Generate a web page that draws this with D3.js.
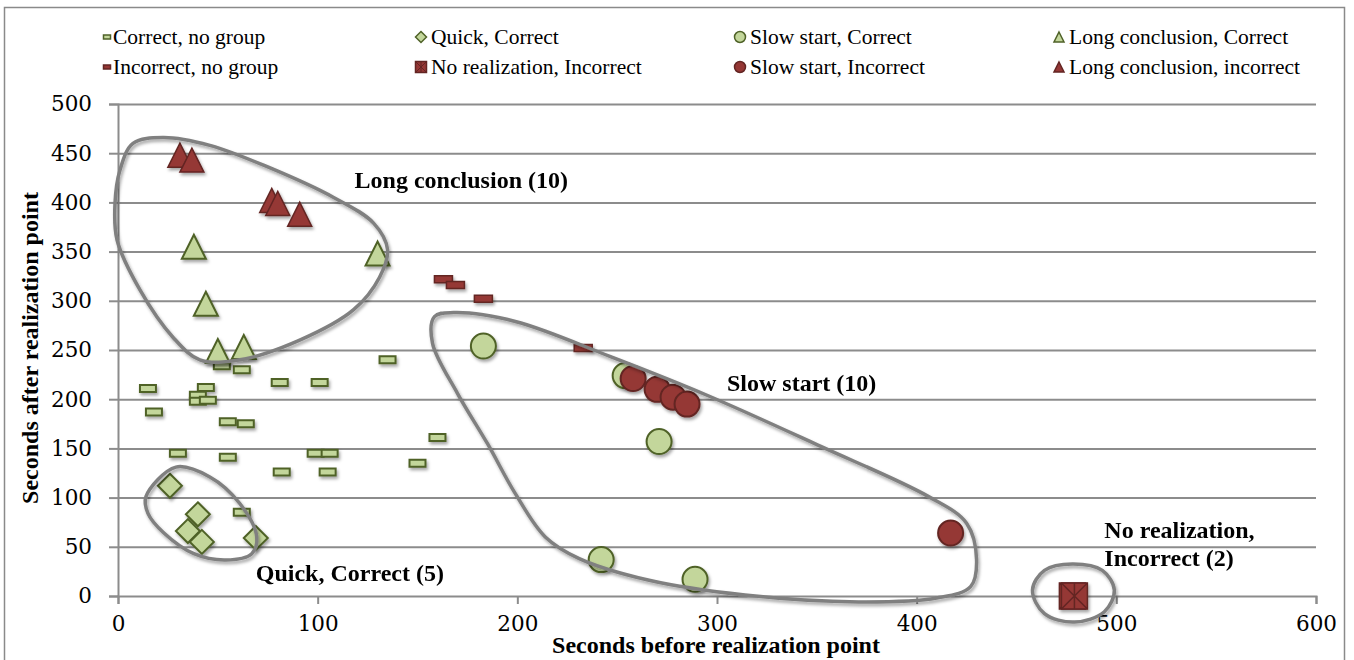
<!DOCTYPE html>
<html>
<head>
<meta charset="utf-8">
<script src="https://cdn.jsdelivr.net/npm/d3@7"></script>
<style>
  html, body { margin: 0; padding: 0; background: #fff; }
  svg { display: block; }
</style>
</head>
<body>
<div id="chart"></div>
<script>
// values: [seconds before, seconds after]
const correctNoGroup = [
  [15, 211], [18, 187], [44, 212], [40, 204], [40, 198], [45, 199],
  [52, 234], [62, 230], [81, 217], [101, 217], [135, 240], [55, 177],
  [64, 175], [30, 145], [55, 141], [99, 145], [106, 145], [82, 126],
  [105, 126], [160, 161], [150, 135], [62, 85]
];
const incorrectNoGroup = [[163, 322], [169, 316], [183, 302], [233, 252]];
const quickCorrect = [[26, 112], [40, 83], [35, 66], [42, 55], [69, 59]];
const noRealization = [[478, 0], [479, 0]];
const slowCorrect = [[183, 254], [254, 224], [271, 157], [242, 37], [289, 17]];
const slowIncorrect = [[258, 221], [270, 210], [278, 202], [285, 195], [417, 64]];
const longCorrect = [[38, 355], [44, 297], [50, 249], [63, 253], [130, 348]];
const longIncorrect = [[31, 448], [37, 443], [77, 402], [80, 399], [91, 388]];

const xTicks = [0, 100, 200, 300, 400, 500, 600];
const yTicks = [0, 50, 100, 150, 200, 250, 300, 350, 400, 450, 500];

const legendLabels = [
  "Correct, no group", "Quick, Correct", "Slow start, Correct", "Long conclusion, Correct",
  "Incorrect, no group", "No realization, Incorrect", "Slow start, Incorrect", "Long conclusion, incorrect"
];

// hand-drawn group outlines, in data units
const longOutline = [
  [7.5, 460], [22.5, 466], [46, 458], [75, 436], [108, 405], [128, 379], [135, 352],
  [131, 324], [118, 291], [91, 260], [61, 240], [41, 240], [27.5, 263], [11, 311],
  [-0.5, 362], [-1.5, 399], [1, 433]
];
const quickOutline = [
  [14, 101], [29, 131], [46, 121], [61, 94], [69.5, 60], [67, 43],
  [54, 36.6], [38, 43], [23, 64], [15, 84]
];
const slowOutline = [
  [158.5, 284], [168, 288], [199, 279], [247, 243], [295, 204], [352, 152], [406, 101],
  [425, 74], [430, 37], [427, 9.5], [410, -2], [371, -6], [314, 1], [266, 16],
  [231, 38], [214, 60], [199, 104], [185, 155], [170, 206], [157.5, 257]
];
const noRealOutline = [
  [458, 6], [464, 26], [478, 32.5], [493, 26], [499, 6], [494, -16], [479, -26.5], [464, -18]
];

const groupLabels = [
  { lines: ["Long conclusion (10)"], at: [118.5, 415] },
  { lines: ["Slow start (10)"], at: [305, 208] },
  { lines: ["Quick, Correct (5)"], at: [69, 15.5] },
  { lines: ["No realization,", "Incorrect (2)"], at: [494, 59] }
];

const width = 1354;
const height = 660;
const green = { fill: "#c3d69b", stroke: "#4f6228" };
const red = { fill: "#953735", stroke: "#632523" };
const serif = "'Liberation Serif', 'Times New Roman', serif";

const svg = d3.select("#chart").append("svg")
    .attr("width", width)
    .attr("height", height);

const defs = svg.append("defs");
defs.append("filter").attr("id", "shadow")
    .attr("x", "-30%").attr("y", "-30%").attr("width", "160%").attr("height", "160%")
  .append("feDropShadow")
    .attr("dx", 1.5).attr("dy", 2.5).attr("stdDeviation", 1.5)
    .attr("flood-color", "#000").attr("flood-opacity", 0.35);

svg.append("rect").attr("width", width).attr("height", height).attr("fill", "#fff");
// outer chart frame
svg.append("rect")
    .attr("x", 4.5).attr("y", 7.5).attr("width", 1340).attr("height", 670)
    .attr("fill", "none").attr("stroke", "#8a8a8a").attr("stroke-width", 1.5);

const x = d3.scaleLinear().domain([0, 600]).range([118, 1316]);
const y = d3.scaleLinear().domain([0, 500]).range([596, 104]);

// horizontal gridlines
svg.append("g")
    .attr("transform", `translate(${x(0)},0)`)
    .call(d3.axisLeft(y).tickValues(yTicks.slice(1)).tickSize(-(x(600) - x(0))).tickFormat(""))
    .call(g => g.select(".domain").remove())
    .call(g => g.selectAll("line").attr("stroke", "#8c8c8c").attr("stroke-width", 2));

// y axis
const gY = svg.append("g")
    .attr("transform", `translate(${x(0)},0)`)
    .call(d3.axisLeft(y).tickValues(yTicks).tickSize(9).tickPadding(17));
// x axis
const gX = svg.append("g")
    .attr("transform", `translate(0,${y(0)})`)
    .call(d3.axisBottom(x).tickValues(xTicks).tickSize(8).tickPadding(12));

[gX, gY].forEach(g => {
  g.select(".domain").attr("stroke", "#8c8c8c").attr("stroke-width", 2);
  g.selectAll(".tick line").attr("stroke", "#8c8c8c").attr("stroke-width", 2);
  g.selectAll(".tick text")
      .attr("fill", "#000")
      .style("font-family", "'DejaVu Serif', serif")
      .style("font-size", "21.5px");
});

// axis titles
svg.append("text")
    .attr("x", 716).attr("y", 653)
    .attr("text-anchor", "middle")
    .style("font-family", serif).style("font-size", "24px").style("font-weight", "bold")
    .text("Seconds before realization point");
svg.append("text")
    .attr("transform", `translate(38,348) rotate(-90)`)
    .attr("text-anchor", "middle")
    .style("font-family", serif).style("font-size", "24px").style("font-weight", "bold")
    .text("Seconds after realization point");

// marker shapes
const shapes = {
  rect: (w, h) => `M${-w / 2},${-h / 2}h${w}v${h}h${-w}Z`,
  diamond: r => `M0,${-r}L${r},0L0,${r}L${-r},0Z`,
  triangle: r => `M0,${-r}L${r},${r}L${-r},${r}Z`,
  square: r => `M${-r},${-r}h${2 * r}v${2 * r}h${-2 * r}Z`
};

function drawSeries(data, d, col, sw) {
  svg.append("g").attr("filter", "url(#shadow)")
    .selectAll("path").data(data).join("path")
      .attr("transform", p => `translate(${x(p[0])},${y(p[1])})`)
      .attr("d", d)
      .attr("fill", col.fill)
      .attr("stroke", col.stroke)
      .attr("stroke-width", sw);
}

function drawCircles(data, col, r) {
  svg.append("g").attr("filter", "url(#shadow)")
    .selectAll("circle").data(data).join("circle")
      .attr("cx", p => x(p[0]))
      .attr("cy", p => y(p[1]))
      .attr("r", r)
      .attr("fill", col.fill)
      .attr("stroke", col.stroke)
      .attr("stroke-width", 2);
}

drawSeries(correctNoGroup, shapes.rect(16, 7), green, 2);
drawSeries(incorrectNoGroup, shapes.rect(18, 7), red, 1.5);
drawSeries(quickCorrect, shapes.diamond(12), green, 2);

// no realization: square with star lines
const nr = svg.append("g").attr("filter", "url(#shadow)")
  .selectAll("g").data(noRealization).join("g")
    .attr("transform", p => `translate(${x(p[0])},${y(p[1])})`);
nr.append("path").attr("d", shapes.square(13))
    .attr("fill", red.fill).attr("stroke", red.stroke).attr("stroke-width", 1.5);
nr.append("path").attr("d", "M0,-13V13M-13,-13L13,13M13,-13L-13,13")
    .attr("stroke", red.stroke).attr("stroke-width", 1.5);

drawCircles(slowCorrect, green, 12.5);
drawCircles(slowIncorrect, red, 12.5);
drawSeries(longCorrect, shapes.triangle(12), green, 2);
drawSeries(longIncorrect, shapes.triangle(12), red, 1.5);

// group outlines
const outline = d3.line()
    .x(p => x(p[0]))
    .y(p => y(p[1]))
    .curve(d3.curveCatmullRomClosed.alpha(0.5));
svg.append("g").attr("filter", "url(#shadow)")
  .selectAll("path").data([longOutline, quickOutline, slowOutline, noRealOutline]).join("path")
    .attr("d", outline)
    .attr("fill", "none")
    .attr("stroke", "#808080")
    .attr("stroke-width", 3.5);

// group labels
svg.append("g")
  .selectAll("text").data(groupLabels).join("text")
    .attr("x", d => x(d.at[0]))
    .attr("y", d => y(d.at[1]))
    .style("font-family", serif).style("font-size", "24px").style("font-weight", "bold")
    .each(function(d) {
      d3.select(this).selectAll("tspan").data(d.lines).join("tspan")
        .attr("x", x(d.at[0]))
        .attr("dy", (t, i) => i === 0 ? 0 : 28)
        .text(t => t);
    });

// legend
const legendCols = [107, 421, 740, 1059];
const legendRows = [37, 67];
const legendMarks = [
  { d: shapes.rect(7, 4), col: green },
  { d: shapes.diamond(5.5), col: green },
  { circle: true, col: green },
  { d: shapes.triangle(5), col: green },
  { d: shapes.rect(7, 4), col: red },
  { d: shapes.square(5.5), col: red, star: true },
  { circle: true, col: red },
  { d: shapes.triangle(5), col: red }
];
const legend = svg.append("g")
  .selectAll("g").data(legendLabels).join("g")
    .attr("transform", (t, i) => `translate(${legendCols[i % 4]},${legendRows[Math.floor(i / 4)]})`);
legend.each(function(t, i) {
  const g = d3.select(this);
  const m = legendMarks[i];
  if (m.circle) {
    g.append("circle").attr("r", 5.5)
        .attr("fill", m.col.fill).attr("stroke", m.col.stroke).attr("stroke-width", 1.5);
  } else {
    g.append("path").attr("d", m.d)
        .attr("fill", m.col.fill).attr("stroke", m.col.stroke).attr("stroke-width", 1.5);
  }
  if (m.star) {
    g.append("path").attr("d", "M0,-5.5V5.5M-5.5,-5.5L5.5,5.5M5.5,-5.5L-5.5,5.5")
        .attr("stroke", m.col.stroke).attr("stroke-width", 1);
  }
  g.append("text")
      .attr("x", m.circle || m.star || i === 1 || i === 3 || i === 7 ? 10 : 6)
      .attr("y", 0)
      .attr("dy", "0.33em")
      .style("font-family", serif).style("font-size", "21.5px")
      .text(t);
});
</script>
</body>
</html>
